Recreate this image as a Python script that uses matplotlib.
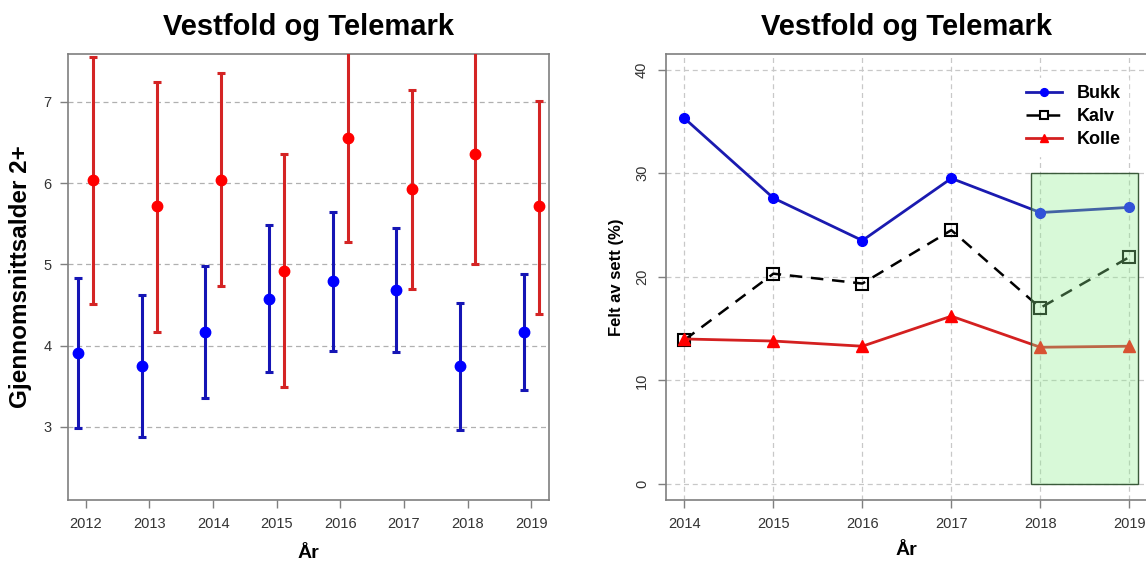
import matplotlib
matplotlib.use("Agg")
import matplotlib.pyplot as plt
from matplotlib.patches import Rectangle
import numpy as np

plt.rcParams['font.family'] = ['Liberation Sans', 'DejaVu Sans']

# ---- Left panel data: mean age 2+ with intervals ----
years_left = [2012, 2013, 2014, 2015, 2016, 2017, 2018, 2019]
blue_mean = [3.91, 3.75, 4.17, 4.57, 4.80, 4.69, 3.75, 4.17]
blue_low = [2.99, 2.88, 3.36, 3.67, 3.94, 3.92, 2.96, 3.45]
blue_high = [4.83, 4.62, 4.98, 5.49, 5.64, 5.45, 4.53, 4.88]
red_mean = [6.04, 5.72, 6.04, 4.92, 6.55, 5.93, 6.36, 5.72]
red_low = [4.51, 4.17, 4.73, 3.49, 5.27, 4.70, 5.00, 4.39]
red_high = [7.55, 7.25, 7.35, 6.36, 7.83, 7.15, 7.72, 7.01]

# ---- Right panel data: felt av sett (%) ----
years_right = [2014, 2015, 2016, 2017, 2018, 2019]
bukk = [35.3, 27.6, 23.5, 29.5, 26.2, 26.7]
kalv = [13.9, 20.3, 19.35, 24.5, 17.0, 21.9]
kolle = [14.0, 13.8, 13.3, 16.2, 13.2, 13.3]

title = "Vestfold og Telemark"

fig = plt.figure(figsize=(11.46, 5.64), dpi=100)

spine_c = '#7f7f7f'
tick_c = '#333333'

# ---------------- Left ----------------
ax1 = fig.add_axes([68/1146, 1-500/564, (549-68)/1146, (500-54)/564])
xl = np.array(years_left, dtype=float)
bm = np.array(blue_mean); rm = np.array(red_mean)
ax1.errorbar(xl - 0.12, bm, yerr=[bm - np.array(blue_low), np.array(blue_high) - bm],
             fmt='o', color='#0000ff', ecolor='#1515b5', elinewidth=2.2, capsize=3,
             capthick=2.2, markersize=7.5, zorder=3)
ax1.errorbar(xl + 0.12, rm, yerr=[rm - np.array(red_low), np.array(red_high) - rm],
             fmt='o', color='#ff0000', ecolor='#d42424', elinewidth=2.2, capsize=3,
             capthick=2.2, markersize=7.5, zorder=3)
ax1.set_xlim(2011.72, 2019.28)
ax1.set_ylim(2.1, 7.59)
ax1.set_xticks(years_left)
ax1.set_yticks([3, 4, 5, 6, 7])
ax1.yaxis.grid(True, linestyle=(0, (4, 3)), color='#b0b0b0', linewidth=0.9)
ax1.set_axisbelow(True)
ax1.set_title(title, fontsize=21, fontweight='bold', pad=14)
ax1.set_xlabel("År", fontsize=14, fontweight='bold', labelpad=10)
ax1.set_ylabel("Gjennomsnittsalder 2+", fontsize=17.5, fontweight='bold', labelpad=8)

# ---------------- Right ----------------
ax2 = fig.add_axes([665.7/1146, 1-500/564, (1148-665.7)/1146, (500-54)/564])
ax2.plot(years_right, bukk, '-o', color='#1a1ab0', markerfacecolor='#0000ff',
         markeredgecolor='#0000ff', linewidth=2, markersize=7, label='Bukk', zorder=3)
ax2.plot(years_right, kalv, '--s', color='black', markerfacecolor='none',
         markeredgecolor='black', markeredgewidth=1.5, linewidth=1.8, markersize=8,
         dashes=(5, 3.5), label='Kalv', zorder=3)
ax2.plot(years_right, kolle, '-^', color='#d42020', markerfacecolor='#ff0000',
         markeredgecolor='#ff0000', linewidth=2, markersize=8, label='Kolle', zorder=3)
rect = Rectangle((2017.9, 0), 1.2, 30, facecolor='#90ee90', alpha=0.35,
                 edgecolor='none', zorder=4)
ax2.add_patch(rect)
rect2 = Rectangle((2017.9, 0), 1.2, 30, facecolor='none',
                  edgecolor='#3a5a3a', linewidth=1.0, zorder=4)
ax2.add_patch(rect2)
ax2.set_xlim(2013.79, 2019.21)
ax2.set_ylim(-1.54, 41.5)
ax2.set_xticks(years_right)
ax2.set_yticks([0, 10, 20, 30, 40])
ax2.grid(True, linestyle=(0, (4, 3)), color='#c8c8c8', linewidth=0.9)
ax2.set_axisbelow(True)
for lab in ax2.get_yticklabels():
    lab.set_rotation(90)
    lab.set_va('center')
ax2.set_title(title, fontsize=21, fontweight='bold', pad=14)
ax2.set_xlabel("År", fontsize=14, fontweight='bold', labelpad=8)
ax2.set_ylabel("Felt av sett (%)", fontsize=12, fontweight='bold', labelpad=8)
leg = ax2.legend(loc='upper left', bbox_to_anchor=(0.714, 0.966), fontsize=13,
                 frameon=True, fancybox=False, edgecolor='white', framealpha=1,
                 handlelength=2.0, handletextpad=0.8, borderpad=0.4,
                 labelspacing=0.33, markerscale=0.8)
for t in leg.get_texts():
    t.set_fontweight('bold')

for ax in (ax1, ax2):
    for s in ax.spines.values():
        s.set_color(spine_c)
        s.set_linewidth(1.2)
    ax.tick_params(axis='both', direction='out', length=6, width=1, color=spine_c,
                   labelcolor=tick_c, labelsize=10.5, pad=6)

fig.savefig("out.png", dpi=100)
